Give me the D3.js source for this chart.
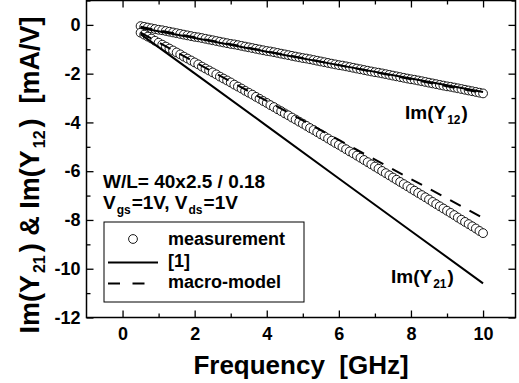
<!DOCTYPE html>
<html>
<head>
<meta charset="utf-8">
<script src="https://cdn.jsdelivr.net/npm/d3@7"></script>
<style>
  html, body { margin: 0; padding: 0; background: #fff; }
  svg { display: block; }
  text { font-family: "Liberation Sans", Arial, Helvetica, sans-serif; font-weight: bold; fill: #000; white-space: pre; }
</style>
</head>
<body>
<svg id="chart" width="519" height="383"></svg>
<script>
// ---------------- data ----------------
const freq = [0.5,0.6,0.7,0.8,0.9,1.0,1.1,1.2,1.3,1.4,1.5,1.6,1.7,1.8,1.9,2.0,2.1,2.2,2.3,2.4,
  2.5,2.6,2.7,2.8,2.9,3.0,3.1,3.2,3.3,3.4,3.5,3.6,3.7,3.8,3.9,4.0,4.1,4.2,4.3,4.4,
  4.5,4.6,4.7,4.8,4.9,5.0,5.1,5.2,5.3,5.4,5.5,5.6,5.7,5.8,5.9,6.0,6.1,6.2,6.3,6.4,
  6.5,6.6,6.7,6.8,6.9,7.0,7.1,7.2,7.3,7.4,7.5,7.6,7.7,7.8,7.9,8.0,8.1,8.2,8.3,8.4,
  8.5,8.6,8.7,8.8,8.9,9.0,9.1,9.2,9.3,9.4,9.5,9.6,9.7,9.8,9.9,10.0];

const measY12 = [-0.05,-0.08,-0.11,-0.14,-0.17,-0.20,-0.22,-0.25,-0.28,-0.31,-0.34,-0.37,-0.40,-0.43,-0.46,-0.49,-0.51,-0.54,-0.57,-0.60,
  -0.63,-0.66,-0.69,-0.72,-0.75,-0.78,-0.80,-0.83,-0.86,-0.89,-0.92,-0.95,-0.98,-1.01,-1.04,-1.07,-1.09,-1.12,-1.15,-1.18,
  -1.21,-1.24,-1.27,-1.30,-1.33,-1.36,-1.38,-1.41,-1.44,-1.47,-1.50,-1.53,-1.56,-1.59,-1.62,-1.65,-1.67,-1.70,-1.73,-1.76,
  -1.79,-1.82,-1.85,-1.88,-1.91,-1.94,-1.96,-1.99,-2.02,-2.05,-2.08,-2.11,-2.14,-2.17,-2.20,-2.23,-2.25,-2.28,-2.31,-2.34,
  -2.37,-2.40,-2.43,-2.46,-2.49,-2.52,-2.54,-2.57,-2.60,-2.63,-2.66,-2.69,-2.72,-2.75,-2.78,-2.81];

const measY21 = [-0.32,-0.40,-0.48,-0.56,-0.65,-0.73,-0.81,-0.89,-0.97,-1.05,-1.13,-1.21,-1.30,-1.38,-1.46,-1.54,-1.62,-1.71,-1.79,-1.87,
  -1.95,-2.03,-2.12,-2.20,-2.28,-2.36,-2.45,-2.53,-2.61,-2.70,-2.78,-2.86,-2.95,-3.03,-3.12,-3.20,-3.29,-3.37,-3.46,-3.54,
  -3.63,-3.71,-3.80,-3.88,-3.97,-4.05,-4.14,-4.23,-4.31,-4.40,-4.49,-4.57,-4.66,-4.75,-4.84,-4.92,-5.01,-5.10,-5.19,-5.27,
  -5.36,-5.45,-5.54,-5.63,-5.72,-5.81,-5.90,-5.99,-6.08,-6.17,-6.26,-6.35,-6.44,-6.53,-6.62,-6.71,-6.80,-6.89,-6.98,-7.07,
  -7.16,-7.26,-7.35,-7.44,-7.53,-7.62,-7.71,-7.80,-7.90,-7.99,-8.08,-8.17,-8.26,-8.35,-8.45,-8.54];

const modelFreq = [0.5, 2, 4, 6, 8, 10];
const refY12   = [-0.13, -0.54, -1.10, -1.65, -2.20, -2.75];
const macroY12 = [-0.08, -0.51, -1.08, -1.65, -2.23, -2.80];
const refY21   = [-0.38, -1.99, -4.14, -6.30, -8.45, -10.60];
const macroY21 = [-0.32, -1.52, -3.12, -4.72, -6.32, -7.92];

const xTicks = [0, 2, 4, 6, 8, 10];
const xMinor = [1, 3, 5, 7, 9];
const yTicks = [0, -2, -4, -6, -8, -10, -12];
const yMinor = [1, -1, -3, -5, -7, -9, -11];

// ---------------- layout ----------------
const L = 86.5, R = 515.5, T = 0.5, B = 317.5;
const svg = d3.select("#chart");
const x = d3.scaleLinear().domain([-1, 10.9]).range([L, R]);
const y = d3.scaleLinear().domain([-12, 1]).range([B, T]);

function styleAxis(g, size) {
  g.select(".domain").remove();
  g.selectAll(".tick line").attr("stroke", "#000").attr("stroke-width", 1.3);
  g.selectAll(".tick text").style("font-size", size + "px").attr("fill", "#000");
}
svg.append("g").attr("transform", `translate(0,${B})`)
  .call(d3.axisBottom(x).tickValues(xTicks).tickSize(-7).tickPadding(10).tickFormat(d3.format("d")))
  .call(g => styleAxis(g, 18));
svg.append("g").attr("transform", `translate(0,${B})`)
  .call(d3.axisBottom(x).tickValues(xMinor).tickSize(-4).tickFormat(""))
  .call(g => styleAxis(g, 18));
svg.append("g").attr("transform", `translate(0,${T})`)
  .call(d3.axisTop(x).tickValues(xTicks).tickSize(-7).tickFormat(""))
  .call(g => styleAxis(g, 18));
svg.append("g").attr("transform", `translate(0,${T})`)
  .call(d3.axisTop(x).tickValues(xMinor).tickSize(-4).tickFormat(""))
  .call(g => styleAxis(g, 18));
svg.append("g").attr("transform", `translate(${L},0)`)
  .call(d3.axisLeft(y).tickValues(yTicks).tickSize(-7).tickPadding(6).tickFormat(d => d === 0 ? "0" : "-" + Math.abs(d)))
  .call(g => styleAxis(g, 18));
svg.append("g").attr("transform", `translate(${L},0)`)
  .call(d3.axisLeft(y).tickValues(yMinor).tickSize(-4).tickFormat(""))
  .call(g => styleAxis(g, 18));
svg.append("g").attr("transform", `translate(${R},0)`)
  .call(d3.axisRight(y).tickValues(yTicks).tickSize(-7).tickFormat(""))
  .call(g => styleAxis(g, 18));
svg.append("g").attr("transform", `translate(${R},0)`)
  .call(d3.axisRight(y).tickValues(yMinor).tickSize(-4).tickFormat(""))
  .call(g => styleAxis(g, 18));

svg.append("rect").attr("x", L).attr("y", T).attr("width", R - L).attr("height", B - T)
  .attr("fill", "none").attr("stroke", "#000").attr("stroke-width", 1.5);

// measurement circles
const plot = svg.append("g");
[measY12, measY21].forEach(series => {
  plot.append("g").selectAll("circle").data(freq).join("circle")
    .attr("cx", d => x(d)).attr("cy", (d, i) => y(series[i])).attr("r", 4.4)
    .attr("fill", "#fff").attr("stroke", "#000").attr("stroke-width", 0.9);
});

// model lines
const line = d3.line().x(d => x(d[0])).y(d => y(d[1]));
function drawLine(vals, dashed) {
  plot.append("path").datum(modelFreq.map((f, i) => [f, vals[i]]))
    .attr("d", line).attr("fill", "none").attr("stroke", "#000").attr("stroke-width", 2)
    .attr("stroke-dasharray", dashed ? "12,10" : null);
}
drawLine(refY12, false);
drawLine(macroY12, true);
drawLine(refY21, false);
drawLine(macroY21, true);

// axis titles
svg.append("text").attr("x", (L + R) / 2).attr("y", 374).attr("text-anchor", "middle")
  .style("font-size", "26px").text("Frequency  [GHz]");

const yt = svg.append("text").attr("transform", "translate(39,175) rotate(-90)")
  .attr("text-anchor", "middle").style("font-size", "27px");
yt.append("tspan").text("Im(Y");
yt.append("tspan").attr("dy", 6).attr("dx", 2).style("font-size", "16px").text("21");
yt.append("tspan").attr("dy", -6).attr("dx", 3).text(") & Im(Y");
yt.append("tspan").attr("dy", 6).attr("dx", 2).style("font-size", "16px").text("12");
yt.append("tspan").attr("dy", -6).attr("dx", 3).text(")  [mA/V]");

// annotations
function subText(xp, yp, parts, size, subSize) {
  const t = svg.append("text").attr("x", xp).attr("y", yp).style("font-size", size + "px");
  let sub = false;
  parts.forEach(p => {
    const s = t.append("tspan").text(p.t);
    if (p.sub && !sub) { s.attr("dy", 5).attr("dx", 1).style("font-size", subSize + "px"); sub = true; }
    else if (!p.sub && sub) { s.attr("dy", -5).attr("dx", 1); sub = false; }
  });
  return t;
}
svg.append("text").attr("x", 103).attr("y", 188).style("font-size", "19px").text("W/L= 40x2.5 / 0.18");
subText(103, 209, [{t: "V"}, {t: "gs", sub: true}, {t: "=1V, V"}, {t: "ds", sub: true}, {t: "=1V"}], 19, 12);
subText(405, 119, [{t: "Im(Y"}, {t: "12", sub: true}, {t: ")"}], 19, 12);
subText(391, 283, [{t: "Im(Y"}, {t: "21", sub: true}, {t: ")"}], 19, 12);

// legend
const lg = svg.append("g");
lg.append("rect").attr("x", 104).attr("y", 222).attr("width", 200).attr("height", 80)
  .attr("fill", "#fff").attr("stroke", "#000").attr("stroke-width", 1);
lg.append("circle").attr("cx", 133).attr("cy", 239).attr("r", 4.4)
  .attr("fill", "#fff").attr("stroke", "#000").attr("stroke-width", 0.9);
lg.append("line").attr("x1", 108).attr("x2", 158).attr("y1", 262.5).attr("y2", 262.5)
  .attr("stroke", "#000").attr("stroke-width", 2);
lg.append("line").attr("x1", 108).attr("x2", 157).attr("y1", 283.5).attr("y2", 283.5)
  .attr("stroke", "#000").attr("stroke-width", 2).attr("stroke-dasharray", "12,12.5");
const legendLabels = ["measurement", "[1]", "macro-model"];
lg.selectAll("text.lab").data(legendLabels).join("text").attr("class", "lab")
  .attr("x", 168).attr("y", (d, i) => 245 + i * 21.5).style("font-size", "18px").text(d => d);
</script>
</body>
</html>
